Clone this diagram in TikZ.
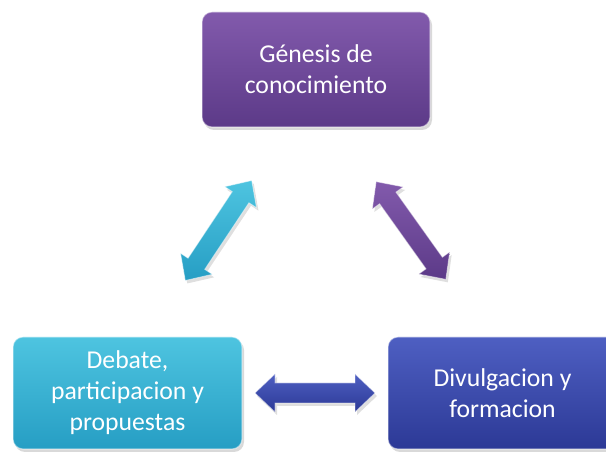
\documentclass[tikz,border=0pt]{standalone}
\usepackage{fontspec}
\setmainfont{Carlito}
\usetikzlibrary{shadows}
\definecolor{pTop}{RGB}{130,90,172}
\definecolor{pBot}{RGB}{92,58,136}
\definecolor{cTop}{RGB}{78,196,224}
\definecolor{cBot}{RGB}{38,158,196}
\definecolor{bTop}{RGB}{78,95,194}
\definecolor{bBot}{RGB}{44,57,150}
\tikzset{
  box/.style={rounded corners=10pt, minimum width=229pt, minimum height=112pt,
    draw=white, draw opacity=0.45, line width=1.2pt,
    text=white, align=center, font=\fontsize{25.7pt}{31pt}\selectfont,
    drop shadow={opacity=0.3, shadow xshift=2pt, shadow yshift=-3pt}},
  purplebox/.style={box, top color=pTop, bottom color=pBot},
  cyanbox/.style={box, top color=cTop, bottom color=cBot},
  bluebox/.style={box, top color=bTop, bottom color=bBot},
  fatarrow/.style={draw=white, draw opacity=0.5, line width=0.8pt,
    drop shadow={opacity=0.25, shadow xshift=2pt, shadow yshift=-3pt}}
}
\newcommand{\dblarrowpath}{(-60,0) -- (-40,19) -- (-40,10) -- (40,10) -- (40,19) -- (60,0) -- (40,-19) -- (40,-10) -- (-40,-10) -- (-40,-19) -- cycle}
\begin{document}
\begin{tikzpicture}[x=1pt, y=1pt]
\useasboundingbox (0,0) rectangle (606,452);
\clip (0,0) rectangle (606,452);
\node[purplebox, minimum height=115pt, minimum width=228pt] (gen) at (316,382.5) {Génesis de\\conocimiento};
\node[cyanbox] (deb) at (127.5,59) {Debate,\\participacion y\\propuestas};
\node[bluebox] (div) at (502.5,59) {Divulgacion y\\formacion};
\coordinate (ac) at (218.5,221.5);
\coordinate (ap) at (411,221.5);
\coordinate (ab) at (315,59);
\begin{scope}[shift={(ac)}, rotate=56.4]
  \path[fatarrow, top color=cTop, bottom color=cBot] \dblarrowpath;
\end{scope}
\begin{scope}[shift={(ap)}, rotate=-54.5]
  \path[fatarrow, top color=pTop, bottom color=pBot] \dblarrowpath;
\end{scope}
\begin{scope}[shift={(ab)}]
  \path[fatarrow, top color=bTop, bottom color=bBot] \dblarrowpath;
\end{scope}
\end{tikzpicture}
\end{document}
